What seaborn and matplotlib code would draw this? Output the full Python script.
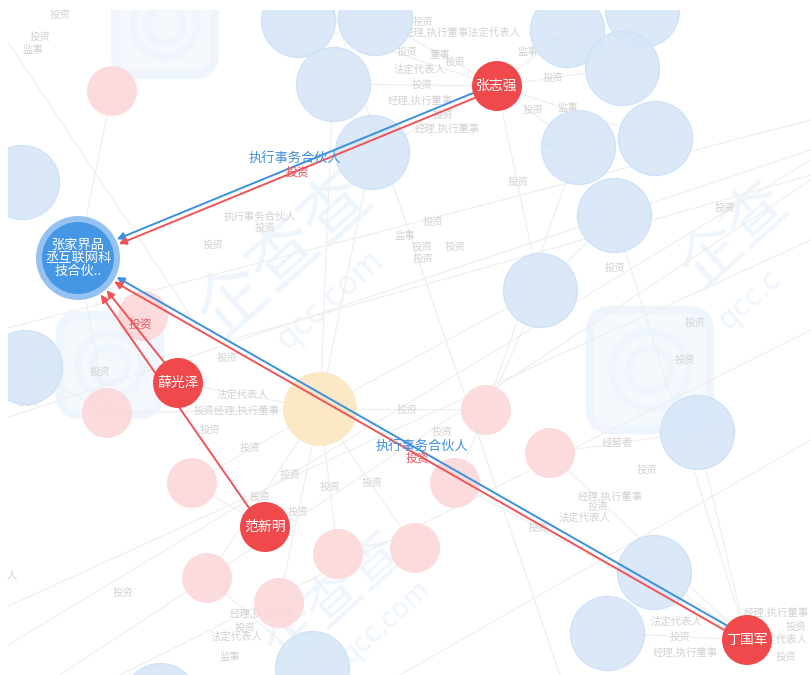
import numpy as np
import pandas as pd
import seaborn as sns
import matplotlib.pyplot as plt
from matplotlib.patches import FancyBboxPatch, Circle

sns.set_theme(style="white")
plt.rcParams["font.family"] = ["Noto Sans CJK SC", "DejaVu Sans"]

# ---------------- data ----------------
# highlighted nodes
key_names = ["center", "张志强", "薛光泽", "范新明", "丁国军"]
key_labels = ["张家界品\n丞互联网科\n技合伙..", "张志强", "薛光泽", "范新明", "丁国军"]
key_x = [78, 497, 178, 265, 747]
key_y = [258, 86, 383, 527, 640]

# faded company nodes (blue)
blue_names = ["B1", "B2", "B3", "B4", "B5", "B6", "B7", "B8", "B9", "B10",
              "B11", "B12", "B13", "B14", "B15", "B16", "B17", "B18"]
blue_x = [298, 375, 333, 372, 22, 567, 642, 622, 578, 655, 614, 540, 25, 697, 654, 607, 312, 160]
blue_y = [20, 18, 84, 152, 182, 30, 10, 68, 147, 138, 215, 290, 367, 432, 572, 633, 668, 700]

# faded person nodes (pink)
pink_names = ["P1", "P2", "P3", "P4", "P5", "P6", "P7", "P8", "P9", "P10", "P11"]
pink_x = [112, 143, 107, 192, 207, 279, 338, 415, 486, 550, 455]
pink_y = [91, 316, 413, 483, 578, 603, 554, 548, 410, 453, 483]

# faded orange node
orange_names = ["O1"]
orange_x = [320]
orange_y = [409]

# highlighted relations
rel_src = ["张志强", "张志强", "丁国军", "丁国军", "薛光泽", "范新明"]
rel_dst = ["center", "center", "center", "center", "center", "center"]
rel_kind = ["执行事务合伙人", "投资", "执行事务合伙人", "投资", "投资", "投资"]
rel_off = [2.6, -2.6, 2.6, -2.6, 2.2, -2.2]

# relation labels
rlab_text = ["执行事务合伙人", "投资", "执行事务合伙人", "投资", "投资"]
rlab_x = [295, 297, 422, 417, 140]
rlab_y = [158, 172, 446, 458, 324]
rlab_kind = ["执行事务合伙人", "投资", "执行事务合伙人", "投资", "投资"]

# faint background relations
faint_src = ["张志强", "张志强", "张志强", "张志强", "张志强", "张志强", "张志强", "张志强", "张志强",
             "O1", "O1", "O1", "O1", "O1", "O1", "O1", "O1", "O1", "O1", "O1",
             "丁国军", "丁国军", "丁国军", "丁国军", "丁国军", "丁国军", "P10", "P1", "B3",
             "P11", "P9", "B12", "P4", "P6", "B17", "B13", "P3"]
faint_dst = ["B3", "B4", "B1", "B2", "B6", "B8", "B9", "B12", "B10",
             "P4", "P5", "P6", "P7", "P8", "P9", "P3", "薛光泽", "B4", "B12", "B3",
             "B14", "B15", "B16", "P10", "P11", "B11", "B14", "center", "B4",
             "B12", "B9", "B11", "范新明", "B17", "P5", "P3", "center"]

# faint long background lines (x0, y0, x1, y1)
long_x0 = [0, 0, 60, 230, 0, 120, 0, 330, 400, 0]
long_y0 = [420, 650, 675, 340, 610, 675, 30, 0, 675, 330]
long_x1 = [811, 811, 811, 811, 811, 811, 200, 560, 811, 811]
long_y1 = [150, 160, 180, 175, 240, 330, 330, 675, 440, 120]

# faint grey labels
flab_text = ["投资", "监事", "投资", "投资", "经理,执行董事法定代表人", "投资", "董事", "投资", "法定代表人",
             "投资", "经理,执行董事", "投资", "经理,执行董事", "监事", "投资", "投资", "监事", "投资",
             "投资", "投资", "投资", "投资", "监事", "投资", "投资", "投资", "执行事务合伙人", "投资",
             "投资", "投资", "法定代表人", "投资经理,执行董事", "投资", "投资", "投资", "投资", "投资",
             "投资", "投资", "投资", "投资", "投资", "投资", "人", "经理,执行董事", "投资", "法定代表人",
             "监事", "投资", "投资", "投资", "经营者", "投资", "经理,执行董事", "投资", "法定代表人", "投资",
             "法定代表人", "投资", "经理,执行董事", "经理,执行董事", "投资", "法定代表人", "投资", "投资", "投资"]
flab_x = [40, 33, 60, 423, 462, 407, 440, 455, 420,
          422, 420, 443, 447, 528, 553, 533, 568, 562,
          552, 518, 433, 455, 405, 422, 423, 725, 260, 265,
          213, 227, 243, 237, 210, 250, 290, 330, 372,
          260, 298, 123, 37, 100, 28, 12, 262, 245, 237,
          230, 407, 442, 685, 617, 647, 610, 598, 585, 538,
          677, 680, 685, 776, 796, 782, 786, 695, 615, 248]
flab_y = [37, 50, 15, 22, 32, 52, 55, 62, 70,
          85, 100, 115, 128, 52, 78, 110, 108, 42,
          145, 182, 222, 247, 236, 247, 259, 208, 217, 228,
          245, 358, 395, 410, 430, 448, 475, 487, 483,
          497, 512, 593, 367, 372, 402, 575, 613, 628, 637,
          657, 410, 432, 360, 443, 470, 496, 507, 518, 528,
          622, 637, 652, 612, 627, 640, 657, 323, 268, 666]

# watermark texts
wm_text = ["企查查", "qcc.com", "企查", "qcc.c", "企查查", "qcc.com"]
wm_x = [285, 330, 735, 750, 335, 385]
wm_y = [255, 300, 235, 300, 598, 622]
wm_rot = [42, 42, 42, 42, 42, 42]
wm_size = [50, 24, 44, 22, 40, 20]

# ---------------- styles ----------------
C_RED = "#f0494c"
C_BLUE_LINE = "#3d8fdf"
C_RED_LINE = "#ee5458"
C_CENTER = "#4597e6"
C_RING = "#95c2f1"
C_FBLUE = "#d7e7f8"
C_FPINK = "#fcd8db"
C_FORANGE = "#fde7c3"
C_FAINT = "#eeeeee"
C_FTEXT = "#d2d2d2"
C_WM = "#eef5fd"


def s_of(r):
    # marker area (pt^2) for radius r in pixels at 100 dpi
    return (2 * r * 0.72) ** 2


pos = {}
for n, x, y in zip(key_names, key_x, key_y):
    pos[n] = (x, y)
for n, x, y in zip(blue_names, blue_x, blue_y):
    pos[n] = (x, y)
for n, x, y in zip(pink_names, pink_x, pink_y):
    pos[n] = (x, y)
for n, x, y in zip(orange_names, orange_x, orange_y):
    pos[n] = (x, y)
radius = {n: 37 for n in blue_names}
radius.update({n: 25 for n in pink_names})
radius.update({"O1": 37, "center": 42, "张志强": 25, "薛光泽": 25, "范新明": 25, "丁国军": 25})

fig = plt.figure(figsize=(8.11, 6.75), dpi=100)
fig.patch.set_facecolor("white")
ax = fig.add_axes([8 / 811, 0, 803 / 811, 665 / 675])
ax.set_xlim(8, 811)
ax.set_ylim(675, 10)
ax.axis("off")

# watermarks
for t, x, y, r, fs in zip(wm_text, wm_x, wm_y, wm_rot, wm_size):
    ax.text(x, y, t, rotation=r, fontsize=fs, color=C_WM, ha="center", va="center", zorder=0)
for (cx, cy, sz) in [(165, 25, 100), (110, 365, 100), (650, 370, 120)]:
    ax.add_patch(FancyBboxPatch((cx - sz / 2, cy - sz / 2), sz, sz,
                                boxstyle="round,pad=0,rounding_size=22",
                                fc="#f5f9fe", ec=C_WM, lw=6, zorder=0))
    for rr in (sz * 0.32, sz * 0.18):
        ax.add_patch(Circle((cx, cy), rr, fc="none", ec=C_WM, lw=5, zorder=0))

# faint lines
for x0, y0, x1, y1 in zip(long_x0, long_y0, long_x1, long_y1):
    ax.plot([x0, x1], [y0, y1], color=C_FAINT, lw=0.8, zorder=1)
for a, b in zip(faint_src, faint_dst):
    (x0, y0), (x1, y1) = pos[a], pos[b]
    ax.plot([x0, x1], [y0, y1], color=C_FAINT, lw=0.8, zorder=1)

for t, x, y in zip(flab_text, flab_x, flab_y):
    ax.text(x, y, t, fontsize=7.5, color=C_FTEXT, ha="center", va="center", zorder=2)

# faint nodes
df_blue = pd.DataFrame({"x": blue_x, "y": blue_y})
df_pink = pd.DataFrame({"x": pink_x, "y": pink_y})
df_orange = pd.DataFrame({"x": orange_x, "y": orange_y})
sns.scatterplot(data=df_blue, x="x", y="y", s=s_of(37), color=C_FBLUE, edgecolor="#cfe1f6",
                linewidth=1, alpha=0.92, ax=ax, legend=False, zorder=3)
sns.scatterplot(data=df_pink, x="x", y="y", s=s_of(25), color=C_FPINK, edgecolor="none",
                alpha=0.92, ax=ax, legend=False, zorder=3)
sns.scatterplot(data=df_orange, x="x", y="y", s=s_of(37), color=C_FORANGE, edgecolor="none",
                alpha=0.95, ax=ax, legend=False, zorder=3)

# highlighted edges
for a, b, kind, off in zip(rel_src, rel_dst, rel_kind, rel_off):
    (x0, y0), (x1, y1) = np.array(pos[a], float), np.array(pos[b], float)
    d = np.array([x1 - x0, y1 - y0])
    L = np.hypot(*d)
    u = d / L
    nrm = np.array([-u[1], u[0]])
    p0 = np.array([x0, y0]) + u * radius[a] + nrm * off
    p1 = np.array([x1, y1]) - u * (radius[b] + 1) + nrm * off
    col = C_BLUE_LINE if kind != "投资" else C_RED_LINE
    ax.annotate("", xy=p1, xytext=p0,
                arrowprops=dict(arrowstyle="-|>", color=col, lw=1.4, mutation_scale=11,
                                shrinkA=0, shrinkB=0), zorder=5)

for t, x, y, kind in zip(rlab_text, rlab_x, rlab_y, rlab_kind):
    col = C_BLUE_LINE if kind != "投资" else C_RED_LINE
    fs = 9.5 if kind != "投资" else 8.5
    ax.text(x, y, t, fontsize=fs, color=col, ha="center", va="center", zorder=6)

# highlighted nodes
df_key = pd.DataFrame({"x": key_x[1:], "y": key_y[1:]})
sns.scatterplot(data=df_key, x="x", y="y", s=s_of(25), color=C_RED, edgecolor="none",
                ax=ax, legend=False, zorder=7)
df_center = pd.DataFrame({"x": key_x[:1], "y": key_y[:1]})
sns.scatterplot(data=df_center, x="x", y="y", s=s_of(42), color=C_RING, edgecolor="none",
                ax=ax, legend=False, zorder=7)
sns.scatterplot(data=df_center, x="x", y="y", s=s_of(36), color=C_CENTER, edgecolor="none",
                ax=ax, legend=False, zorder=7)

for n, lab, x, y in zip(key_names, key_labels, key_x, key_y):
    fs = 9.5 if n == "center" else 10
    ax.text(x, y, lab, fontsize=fs, color="white", ha="center", va="center",
            linespacing=1.0, zorder=8)

fig.savefig("out.png", dpi=100)
